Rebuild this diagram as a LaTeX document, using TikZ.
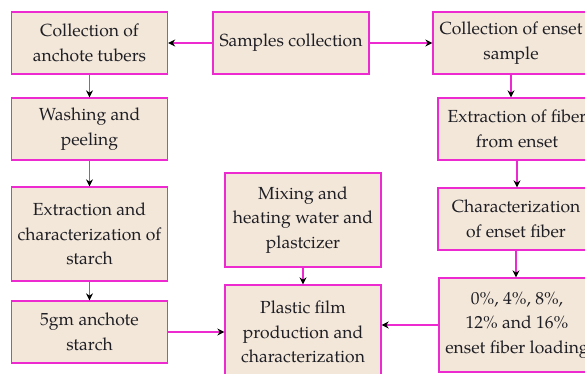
\documentclass[tikz,border=0pt]{standalone}
\usepackage{fontspec}
\setmainfont{texgyrepagella-regular.otf}
\usetikzlibrary{arrows.meta}
\definecolor{boxfill}{HTML}{F3E7D9}
\definecolor{boxline}{HTML}{EC2AD0}
\definecolor{txt}{HTML}{1E1E24}
\tikzset{
  box/.style={draw=boxline, fill=boxfill, line width=1.3pt, align=center,
    text=txt, inner sep=0pt, minimum width=156pt, minimum height=62pt,
    font=\fontsize{17.5}{24.5}\selectfont},
  tall/.style={minimum height=94pt},
  conn/.style={draw=boxline, line width=1.3pt,
    -{Stealth[length=7pt,width=7pt,color=black]}}
}
\begin{document}
\begin{tikzpicture}[x=1pt,y=-1pt]
\useasboundingbox (0,0) rectangle (585,373);
\clip (0,0) rectangle (585,373);
\fill[white] (0,0) rectangle (585,373);
\node[box] (A) at (89.5,43) {Collection of\\anchote tubers};
\node[box] (S) at (291,43) {Samples collection};
\node[box] (E) at (511,43) {Collection of enset\\sample};
\node[box] (W) at (89.5,129) {Washing and\\peeling};
\node[box, minimum width=158pt] (F) at (517,129) {Extraction of fiber\\from enset};
\node[box, tall] (X) at (89.5,234) {Extraction and\\characterization of\\starch};
\node[box, tall] (M) at (303,220) {Mixing and\\heating water and\\plastcizer};
\node[box] (C) at (516,219) {Characterization\\of enset fiber};
\node[box] (G) at (89.5,332) {5gm anchote\\starch};
\node[box, tall] (P) at (303,332) {Plastic film\\production and\\characterization};
\node[box, tall] (L) at (517,325) {0\%, 4\%, 8\%,\\12\% and 16\%\\enset fiber loading};
\draw[conn] (S.west) -- (A.east);
\draw[conn] (S.east) -- (E.west);
\draw[conn] (A.south) -- (W.north);
\draw[conn] (W.south) -- (X.north);
\draw[conn] (X.south) -- (G.north);
\draw[conn] (E.south) -- (E.south |- F.north);
\draw[conn] (F.south) -- (F.south |- C.north);
\draw[conn] (C.south) -- (C.south |- L.north);
\draw[conn] (M.south) -- (P.north);
\draw[conn] (G.east) -- (G.east -| P.west);
\draw[conn] (L.west) -- (L.west -| P.east);
\end{tikzpicture}
\end{document}
